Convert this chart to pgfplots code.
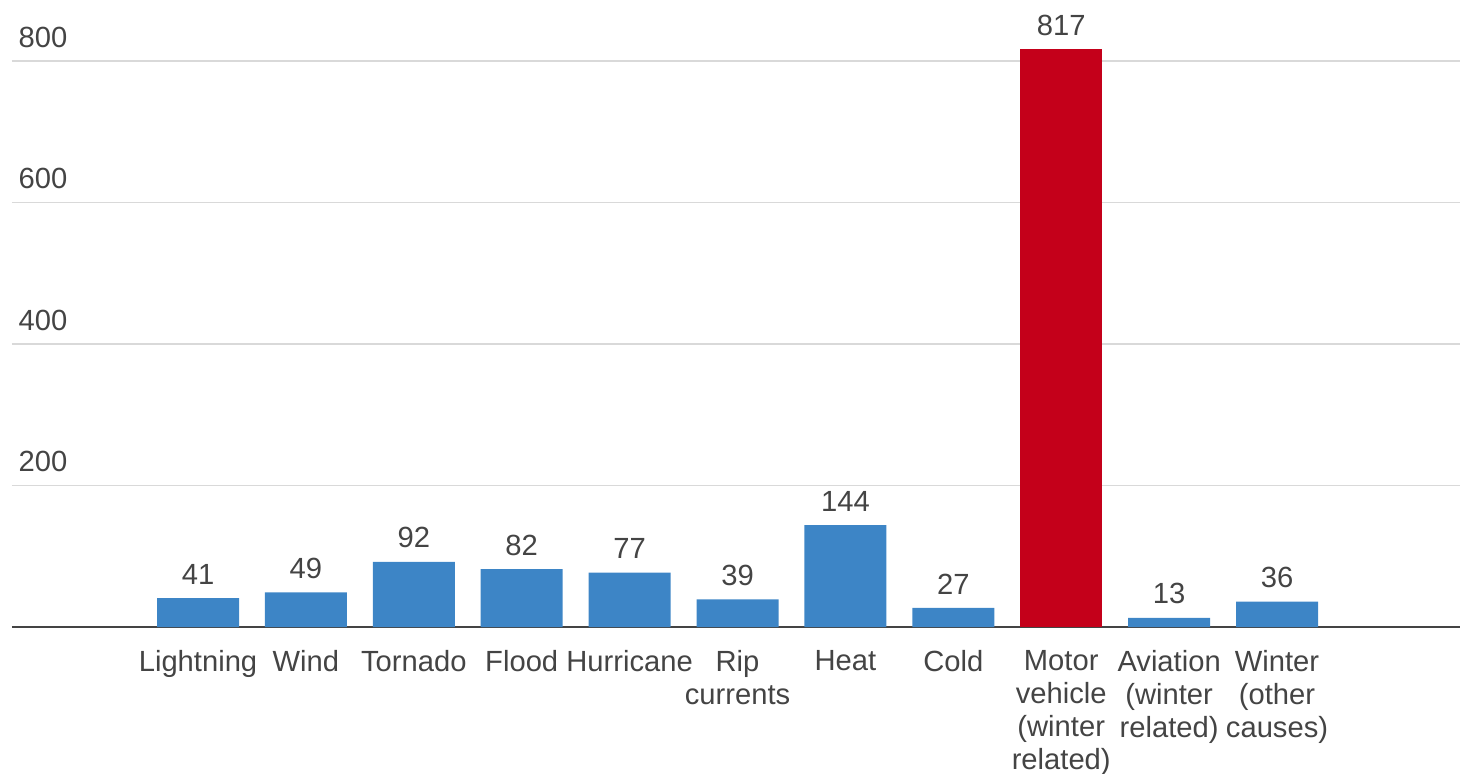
\documentclass[border=0pt]{standalone}
\usepackage{fontspec}
\setmainfont{Liberation Sans}
\usepackage{pgfplots}
\pgfplotsset{compat=1.18}
\definecolor{barblue}{HTML}{3D85C6}
\definecolor{barred}{HTML}{C4001A}
\definecolor{txt}{HTML}{444444}
\definecolor{gridgray}{HTML}{D9D9D9}

\begin{document}
\begin{tikzpicture}
\useasboundingbox (0,0) rectangle (14.62,7.73);
\begin{axis}[
  at={(0.12cm,1.46cm)}, anchor=south west,
  scale only axis, width=14.48cm, height=5.66cm,
  xmin=-1.724, xmax=11.696, ymin=0, ymax=800,
  clip=false,
  axis line style={draw=none},
  major tick length=0pt,
  ymajorgrids, grid style={gridgray, line width=0.15mm},
  ytick={200,400,600,800},
  extra y ticks={0}, extra y tick labels={},
  extra y tick style={grid style={draw=txt, line width=0.2mm}},
  xtick={0,...,10},
  xticklabels={Lightning, Wind, Tornado, Flood, Hurricane, Rip\\currents, Heat, Cold,
    Motor\\vehicle\\(winter\\related), Aviation\\(winter\\related), Winter\\(other\\causes)},
  tick label style={font=\fontsize{8.3}{9.4}\selectfont, text=txt},
  xticklabel style={align=center, yshift=-1.1mm},
  yticklabel style={anchor=south west, inner sep=0pt, xshift=0.6mm, yshift=1.3mm},
  /pgf/number format/assume math mode=true,
  ybar, bar width=8.2mm,
  nodes near coords,
  nodes near coords style={inner sep=0pt, yshift=1.3mm, font=\fontsize{8.3}{9.4}\selectfont, text=txt},
]
\addplot[fill=barblue, draw=none, bar shift=0pt] coordinates {
  (0,41) (1,49) (2,92) (3,82) (4,77) (5,39) (6,144) (7,27) (9,13) (10,36)
};
\addplot[fill=barred, draw=none, bar shift=0pt] coordinates {
  (8,817)
};
\end{axis}
\end{tikzpicture}
\end{document}
